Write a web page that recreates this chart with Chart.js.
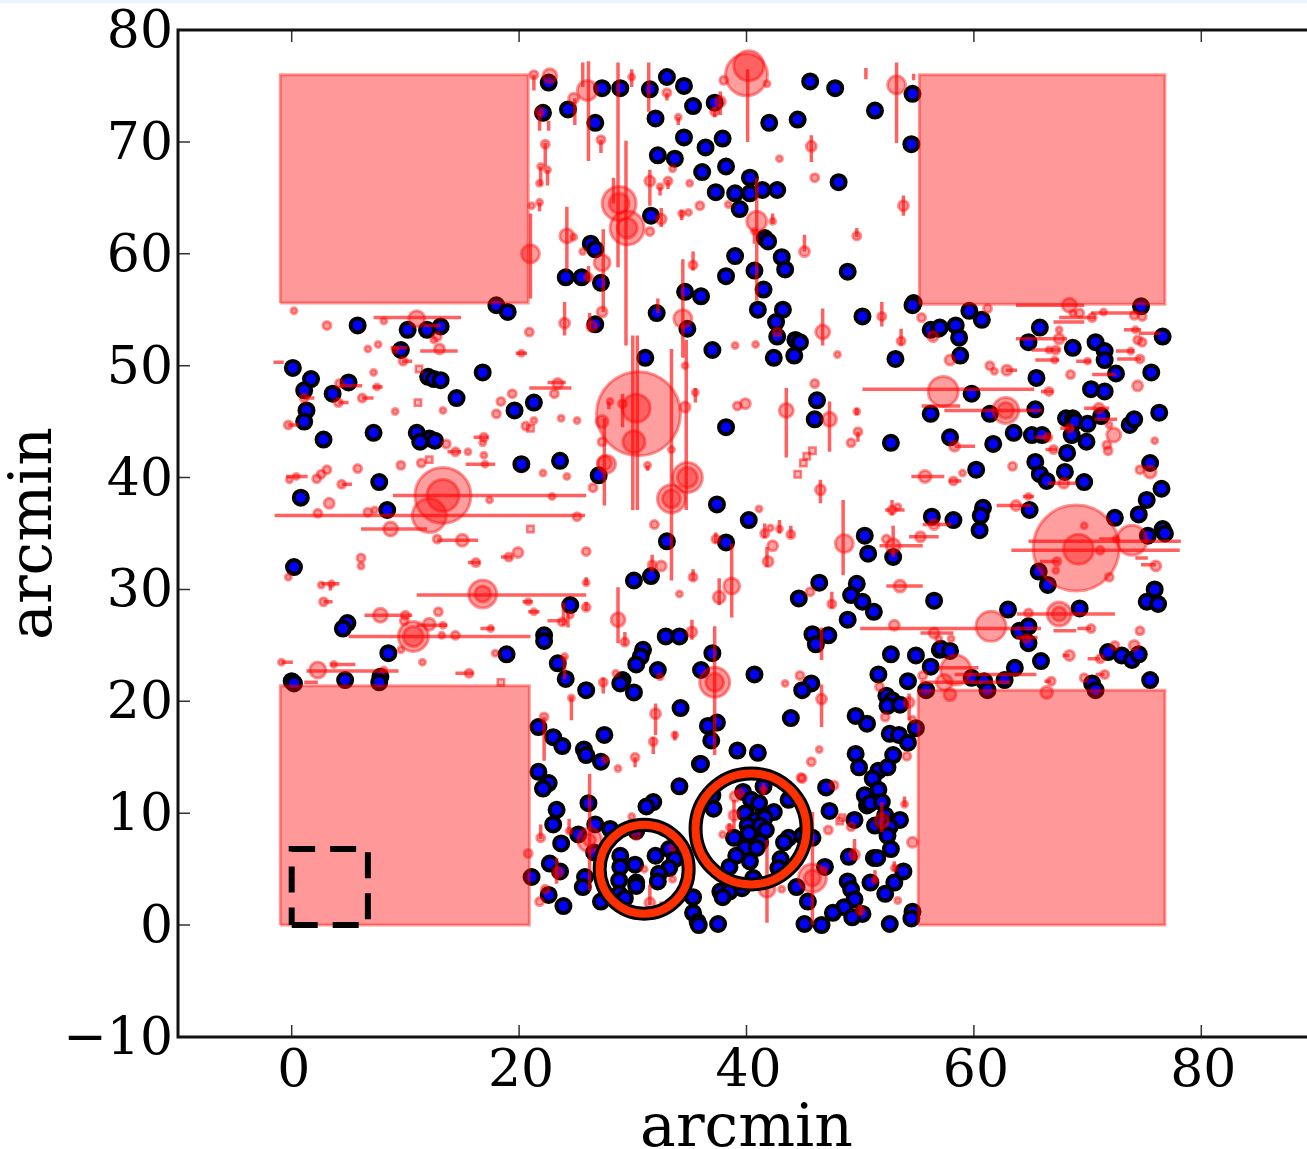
<!DOCTYPE html>
<html lang="en">
<head>
  <meta charset="UTF-8">
  <title>arcmin map</title>
  <script src="https://cdn.jsdelivr.net/npm/chart.js"></script>
  <style>
    html, body { margin: 0; padding: 0; background: #fff; overflow: hidden; width: 1307px; height: 1149px; }
    #strip { position: absolute; left: 0; top: 0; width: 1307px; height: 3px; background: #e9f2fd; z-index: 2; }
    #plot { position: absolute; left: 0; top: 0; display: block; }
  </style>
</head>
<body>
  <div id="strip"></div>
  <canvas id="plot" width="1315" height="1149"></canvas>

  <script>
    const xTicks = [0, 20, 40, 60, 80];
    const yTicks = [-10, 0, 10, 20, 30, 40, 50, 60, 70, 80];
    const axisTitle = 'arcmin';

    // masked corners: x0, x1, y0, y1
    const maskRects = [[-1, 20.8, 55.6, 76], [55.2, 76.8, 55.5, 76], [-1, 20.9, 0, 21.4], [55.1, 76.8, 0, 21]];
    const dashedRect = [0, 6.7, 0, 6.8];
    // cluster circles: x, y, r
    const clusterCircles = [[31, 5, 44.5], [40.4, 8.6, 55.5]];

    // blue sources: x, y
    const blueSources = [
      [22.6,75.3],[27.3,74.8],[22.1,72.6],[24.3,72.9],[26.7,71.7],[26.3,60.9],[26.7,60.4],[24.1,57.9],[25.5,57.9],[27.2,57.4],
      [18.0,55.4],[19.0,54.8],[5.8,53.6],[10.2,53.2],[11.9,53.2],[13.1,53.5],[26.7,53.7],[28.9,74.8],[31.5,74.7],[33.0,75.8],
      [34.5,75.0],[35.3,73.2],[37.2,73.5],[32.0,72.1],[42.0,71.7],[44.5,72.0],[45.6,75.4],[47.8,74.8],[54.6,74.3],[51.3,72.8],
      [54.5,69.8],[34.5,70.4],[36.4,69.5],[37.9,70.3],[32.2,68.8],[33.7,68.5],[36.1,67.3],[38.2,67.8],[40.3,66.8],[37.3,65.5],
      [39.0,65.4],[40.3,65.4],[41.4,65.7],[42.7,65.7],[39.4,64.0],[48.1,66.4],[31.6,63.4],[41.6,61.4],[41.9,61.1],[39.0,59.8],
      [43.1,59.7],[43.4,58.6],[40.7,58.5],[38.2,58.0],[48.9,58.4],[41.5,56.8],[34.6,56.6],[36.0,56.2],[41.0,55.0],[43.2,55.0],
      [32.1,54.7],[50.2,54.4],[54.7,55.6],[54.6,55.4],[42.6,53.9],[34.8,53.3],[42.7,52.6],[44.3,52.3],[44.7,52.1],[56.2,53.2],
      [56.9,53.3],[37.0,51.4],[31.1,50.7],[42.4,50.7],[44.2,50.9],[53.1,50.6],[38.2,44.5],[46.2,46.9],[46.0,45.2],[56.2,45.7],
      [52.7,43.1],[37.4,37.6],[40.2,36.2],[56.3,36.5],[33.0,34.3],[38.2,34.2],[31.6,31.2],[30.1,30.8],[50.4,34.8],[50.7,33.2],
      [52.9,32.9],[46.4,30.6],[44.6,29.2],[49.7,30.5],[49.2,29.5],[50.2,28.9],[51.2,28.0],[48.9,27.3],[56.5,29.0],[0.1,49.8],
      [1.7,48.8],[1.1,47.8],[5.0,48.5],[3.6,47.5],[1.3,46.0],[1.1,45.0],[2.8,43.4],[7.2,44.0],[9.6,51.4],[12.0,49.0],
      [12.5,48.8],[13.1,48.7],[14.5,47.1],[16.8,49.4],[19.6,46.0],[21.3,46.7],[11.0,44.0],[12.1,43.5],[11.3,43.2],[12.6,43.3],
      [20.2,41.2],[23.6,41.5],[27.0,40.2],[7.7,39.6],[0.8,38.2],[8.4,37.1],[0.2,32.0],[4.9,27.0],[4.5,26.5],[8.5,24.3],
      [18.9,24.2],[24.5,28.6],[22.2,25.9],[22.2,25.4],[23.4,23.4],[24.1,22.0],[25.9,21.0],[0.0,21.8],[0.2,21.6],[4.7,21.9],
      [7.8,22.2],[7.7,21.7],[21.7,17.7],[23.0,16.8],[23.8,16.0],[27.5,17.0],[25.7,15.7],[25.9,15.2],[27.2,14.6],[32.9,25.8],
      [34.1,25.8],[30.9,24.6],[30.7,24.0],[30.3,23.3],[32.2,22.8],[29.1,21.9],[28.9,21.6],[30.1,20.8],[37.0,24.3],[36.0,22.8],
      [40.7,22.4],[34.2,19.4],[45.7,21.6],[44.9,21.0],[45.8,26.0],[47.2,25.9],[46.1,25.1],[52.7,24.2],[54.9,24.1],[57.0,24.6],
      [51.6,22.4],[56.2,23.1],[54.2,21.8],[55.8,21.0],[52.3,20.5],[52.8,20.1],[52.4,19.6],[53.5,19.7],[43.9,18.5],[49.6,18.7],
      [50.6,18.0],[37.4,18.1],[36.6,17.8],[36.9,16.5],[52.6,17.1],[53.4,17.0],[54.2,16.3],[54.9,17.6],[39.2,15.6],[41.0,15.4],
      [35.9,14.4],[49.6,15.3],[52.9,15.2],[49.9,14.1],[51.6,13.8],[52.4,14.1],[51.1,13.1],[59.6,54.9],[60.7,54.1],[74.7,55.3],
      [57.0,53.4],[58.4,53.6],[58.7,52.5],[58.8,50.9],[65.8,53.4],[64.8,52.1],[68.7,51.6],[76.6,52.6],[70.7,52.1],[71.5,51.3],
      [71.5,50.5],[72.5,49.3],[75.6,49.4],[65.5,48.9],[70.3,47.9],[71.5,47.7],[59.8,47.5],[65.4,46.1],[61.4,45.7],[68.1,45.3],
      [68.7,45.3],[68.9,45.0],[70.0,44.8],[71.2,45.5],[73.7,44.7],[74.1,45.2],[76.3,45.8],[57.9,43.6],[61.7,43.0],[63.5,44.0],
      [65.1,43.8],[66.0,43.8],[68.6,43.8],[69.9,43.2],[68.2,42.2],[65.4,41.4],[75.5,41.3],[60.2,40.7],[68.0,40.5],[65.8,40.3],
      [66.4,39.7],[69.7,39.6],[76.5,39.0],[75.2,38.0],[74.5,36.7],[72.4,36.4],[58.2,36.2],[60.8,37.3],[60.6,36.6],[60.5,35.3],
      [64.9,37.1],[75.3,34.8],[76.6,35.4],[76.8,35.0],[65.7,31.6],[66.5,30.4],[75.9,30.0],[75.2,28.9],[76.2,28.7],[63.0,28.2],
      [69.3,28.3],[64.0,26.3],[64.8,26.7],[64.8,25.2],[65.9,23.6],[57.1,24.7],[57.9,24.5],[63.6,23.0],[59.8,22.1],[60.9,21.8],
      [62.7,21.9],[61.2,21.0],[71.8,24.4],[73.0,24.1],[73.9,23.7],[74.5,24.2],[75.5,21.9],[70.4,21.6],[70.7,21.0],[21.7,13.7],
      [22.6,12.7],[22.1,12.2],[23.3,10.3],[23.0,9.0],[23.7,7.3],[26.1,10.9],[26.7,9.0],[25.2,8.1],[28.0,8.6],[30.3,8.4],
      [34.1,12.4],[31.8,11.0],[31.2,10.6],[28.9,6.2],[28.9,5.2],[30.2,5.4],[28.8,4.0],[30.3,3.8],[30.3,3.5],[28.8,2.8],
      [29.3,2.4],[32.0,6.2],[33.2,6.8],[33.7,5.9],[33.2,5.1],[32.3,4.6],[32.2,3.9],[22.7,5.5],[23.6,4.8],[21.1,4.3],
      [25.8,4.3],[25.6,3.4],[22.6,2.7],[23.9,1.7],[27.2,2.1],[35.3,2.5],[35.3,1.1],[35.7,0.3],[35.8,0],[37.5,0.1],
      [26.6,6.5],[36.0,14.4],[47.0,12.3],[51.6,12.1],[50.4,11.6],[50.6,10.7],[50.9,10.9],[51.9,11.0],[47.3,10.2],[49.5,9.4],
      [52.2,9.8],[53.5,9.4],[51.3,8.9],[52.0,9.2],[52.6,8.8],[52.4,8.0],[52.7,6.8],[49.0,6.1],[51.2,6.0],[51.5,6.0],
      [46.9,5.2],[53.8,4.8],[53.0,3.8],[52.2,2.8],[50.9,3.8],[48.9,3.9],[49.2,3.2],[49.5,2.3],[48.6,1.6],[50.2,1.0],
      [49.3,0.7],[47.6,1.1],[45.4,2.1],[44.4,3.4],[45.1,0.1],[46.6,0],[52.6,0.1],[54.6,1.2],[54.5,0.6],[37.0,11.6],
      [37.1,10.4],[39.7,11.9],[41.5,12.4],[40.4,11.2],[41.1,10.9],[43.7,11.2],[39.9,10.0],[42.4,10.1],[40.8,9.4],[41.6,9.6],
      [40.1,8.9],[41.2,8.9],[41.7,8.5],[40.2,8.2],[38.9,7.8],[41.2,7.4],[39.9,6.9],[40.9,6.9],[39.1,6.2],[40.3,5.7],
      [38.5,5.2],[43.0,5.9],[42.8,5.1],[43.7,7.8],[43.3,7.4],[44.9,8.0],[45.8,7.8],[40.6,4.2],[37.7,3.0],[38.5,3.0],
      [37.9,2.5],[39.6,3.3]
    ];

    // red sources: x, y, r
    const redSources = [
      [30.5,45.7,42],[30.3,46.2,14],[30.1,43.2,11],[34.8,40.0,15],[34.8,40.0,10],[33.4,38.1,14],[33.4,38.1,9],[27.7,41.2,9],
      [13.3,38.4,28],[13.3,38.4,16],[12.1,36.6,17],[69.0,33.7,43],[69.2,33.6,15],[73.9,34.4,15],[57.3,47.7,15],[62.8,46.0,13],
      [62.8,46.0,8],[61.5,26.7,15],[67.5,27.8,12],[67.5,27.8,7],[58.4,22.8,15],[16.8,29.6,14],[16.8,29.6,8],[10.7,25.8,15],
      [10.7,25.8,10],[2.3,22.8,8],[7.8,27.7,7],[12.1,26.9,6],[40.0,76.0,21],[40.2,76.8,15],[53.2,75.1,9],[26.0,74.6,10],
      [28.8,64.5,17],[28.8,64.5,10],[29.5,62.3,17],[29.5,62.3,10],[21.0,60.0,9],[24.2,61.6,7],[27.3,59.2,8],[40.9,62.9,10],
      [46.7,53.0,7],[34.4,54.2,9],[48.6,34.1,9],[43.5,46.0,7],[47.3,45.2,7],[37.2,21.7,15],[37.2,21.7,9],[28.7,27.3,7],
      [38.7,30.3,8],[37.6,29.3,6],[45.8,4.2,14],[45.8,4.2,8],[41.8,3.2,8],[26.2,7.6,12],[26.2,7.6,6],
      [21.3,76.0,4],[22.7,75.9,7],[24.8,73.9,5],[21.8,72.7,4],[27.2,70.2,4],[22.3,69.8,4],[21.9,67.8,3],[22.5,67.5,3],
      [21.8,66.3,3],[21.8,64.6,3],[21.1,64.3,3],[24.8,61.5,3],[25.6,60.2,3],[26.1,57.9,4],[0.2,54.9,3],[3.1,53.6,4],
      [8.1,54.0,3],[11.0,54.2,8],[27.3,54.8,5],[24.0,53.8,5],[26.4,53.5,5],[20.9,53.0,4],[12.8,52.6,4],[12.5,52.3,3],
      [7.6,51.9,3],[6.7,51.5,3],[13.0,51.5,5],[9.8,50.4,4],[7.2,49.4,3],[9.1,51.4,3],[4.2,48.4,4],[7.5,48.1,3],
      [6.2,47.1,4],[4.1,46.7,4],[1.1,47.1,4],[-0.3,44.7,4],[9.1,45.9,3],[13.3,46.0,3],[20.2,51.1,3],[19.4,47.5,4],
      [18.4,46.8,4],[18.0,45.7,4],[20.6,44.6,4],[21.3,45.1,3],[23.4,48.4,5],[23.1,47.5,4],[23.7,45.3,3],[25.1,45.1,3],
      [27.3,45.0,6],[27.3,43.2,4],[27.5,41.3,7],[16.9,43.6,4],[16.8,43.1,3],[16.9,42.0,3],[17.0,41.2,3],[13.6,43.0,4],
      [14.4,42.3,4],[15.5,42.3,3],[11.4,41.3,4],[9.6,41.1,4],[5.8,40.8,4],[3.1,40.7,4],[2.6,40.3,4],[2.2,39.9,4],
      [4.4,39.4,4],[0.4,40.1,3],[-0.2,39.8,3],[22.1,40.4,3],[24.2,40.1,3],[26.5,39.1,4],[22.9,38.3,3],[17.4,38.0,3],
      [3.3,37.7,5],[2.3,36.8,4],[6.7,36.9,4],[7.3,37.1,3],[25.1,36.5,4],[8.7,35.4,7],[15.0,34.4,6],[12.8,34.5,4],
      [25.9,33.4,4],[19.9,33.3,5],[19.1,32.9,4],[16.2,32.4,4],[6.1,32.8,4],[6.1,32.1,3],[-0.3,31.1,3],[2.6,30.4,3],
      [3.5,30.5,3],[2.8,28.9,4],[20.8,28.9,3],[25.9,30.6,3],[25.9,28.4,4],[21.3,28.0,3],[12.9,28.0,4],[10.0,27.7,4],
      [9.9,27.2,4],[13.3,26.8,3],[17.5,26.5,3],[14.4,25.9,4],[13.2,25.9,3],[23.8,27.1,4],[24.5,27.7,3],[9.6,24.6,3],
      [11.5,23.5,3],[17.9,24.3,3],[-0.9,23.5,3],[3.7,23.3,3],[8.1,22.8,3],[15.6,22.5,4],[24.0,24.0,3],[27.4,21.7,4],
      [24.6,20.3,3],[22.2,18.6,4],[29.3,25.3,4],[35.2,26.2,5],[28.5,22.5,3],[32.4,22.2,3],[44.7,22.3,4],[43.4,21.6,3],
      [46.6,20.2,5],[32.0,18.9,5],[33.7,17.0,3],[31.8,16.4,4],[30.2,15.0,4],[28.7,14.0,3],[27.6,14.8,3],[46.4,15.7,3],
      [45.7,14.6,4],[44.8,13.2,4],[53.0,26.8,5],[56.5,26.1,5],[51.7,21.3,4],[54.3,19.9,5],[52.2,18.6,4],[54.6,18.4,3],
      [54.1,15.1,4],[64.8,27.9,4],[58.0,25.6,3],[56.9,25.6,3],[64.6,25.6,4],[70.3,26.5,4],[74.6,26.3,4],[72.4,25.0,4],
      [74.1,25.0,5],[68.4,24.1,5],[71.1,23.8,4],[71.5,22.4,4],[69.7,22.1,4],[66.8,21.8,4],[66.4,20.8,6],[57.9,20.6,6],
      [57.4,21.7,8],[55.5,22.3,4],[76.0,32.1,5],[67.2,31.7,3],[71.9,31.1,4],[61.2,55.1,4],[68.4,55.4,7],[69.3,54.7,4],
      [70.4,54.3,4],[68.7,54.7,3],[71.4,54.8,3],[74.1,54.5,4],[74.8,54.4,4],[67.5,53.2,3],[67.5,52.4,5],[66.6,51.4,3],
      [67.2,51.4,4],[67.1,50.5,3],[70.0,50.4,3],[73.8,51.3,3],[74.6,50.6,4],[74.4,52.3,4],[74.8,52.1,4],[74.2,53.2,3],
      [56.4,52.6,5],[57.9,50.5,5],[61.4,50.0,4],[61.8,49.5,3],[62.9,49.6,5],[68.5,49.2,4],[74.4,48.2,5],[66.6,47.7,4],
      [71.0,46.2,5],[72.3,43.8,7],[71.9,44.7,3],[68.4,44.4,4],[66.5,43.6,4],[58.3,42.8,5],[67.0,42.5,4],[71.7,42.9,4],
      [71.8,42.4,4],[75.9,43.3,3],[63.4,41.0,4],[55.7,40.1,6],[59.0,40.4,3],[58.2,39.7,4],[74.6,40.7,4],[75.5,40.5,6],
      [67.9,39.5,5],[64.8,38.3,3],[63.7,37.5,5],[56.5,35.8,5],[69.7,35.7,3],[71.1,33.5,4],[67.3,32.5,4],[72.5,34.5,3],
      [29.9,75.8,3],[33.0,74.4,4],[37.7,73.6,5],[37.2,72.7,4],[38.0,75.5,4],[41.8,75.2,3],[34.0,72.2,3],[31.5,66.5,5],
      [32.4,66.0,3],[33.1,66.5,4],[35.0,66.3,3],[33.5,67.6,3],[32.5,63.1,5],[34.3,63.6,3],[34.9,63.7,3],[35.9,64.3,4],
      [38.4,64.4,3],[31.5,62.0,4],[35.3,59.0,4],[42.3,62.9,3],[45.7,69.6,5],[42.9,68.5,3],[46.0,66.8,4],[53.8,64.3,5],
      [49.7,61.6,4],[45.1,60.2,5],[51.9,54.4,4],[53.6,52.2,4],[55.4,54.3,4],[39.0,51.8,3],[40.8,51.9,3],[42.7,53.0,4],
      [40.7,62.0,3],[28.0,46.8,3],[29.1,46.6,4],[34.6,50.0,3],[35.5,47.6,3],[34.6,46.3,5],[33.4,42.5,3],[31.3,41.1,3],
      [39.2,46.4,4],[39.9,46.6,5],[46.0,48.4,4],[48.0,51.0,3],[49.7,45.9,3],[49.8,44.1,4],[49.2,43.1,4],[46.5,38.9,5],
      [41.1,37.2,3],[31.9,35.8,4],[42.1,35.5,3],[41.6,35.0,4],[42.9,35.4,3],[43.9,34.9,4],[42.3,33.9,5],[41.9,32.5,5],
      [37.3,34.5,4],[32.5,32.1,5],[31.7,32.2,4],[35.3,31.1,4],[34.1,29.6,3],[45.6,29.8,4],[47.5,28.7,4],[52.8,37.1,4],
      [53.3,37.4,3],[55.3,34.7,5],[52.3,34.5,4],[52.9,33.9,7],[53.5,30.3,6],[21.9,7.8,4],[20.8,6.4,4],[23.4,4.7,5],
      [21.8,2.1,4],[22.3,3.2,4],[24.4,8.4,3],[29.9,9.7,3],[30.3,8.0,4],[31.0,5.0,3],[33.5,4.1,3],[33.5,6.9,3],
      [31.5,2.0,5],[39.0,11.5,5],[38.9,9.8,5],[39.4,11.8,4],[37.9,8.1,3],[38.5,8.7,3],[41.5,12.1,3],[47.7,12.5,4],
      [44.9,13.1,4],[53.9,10.8,3],[51.9,9.3,7],[47.2,8.5,4],[49.2,8.8,4],[49.5,6.3,5],[53.0,5.1,3],[51.3,4.0,3],
      [50.0,1.3,4],[54.6,7.4,5],[53.3,2.2,3],[43.1,3.2,3],[46.8,4.9,3]
    ];

    // box shaped red sources: x, y
    const redBoxes = [
      [48.4,9.6],[48.2,9.3],[45.3,41.9],[45.8,42.4],[45.0,41.3],[44.5,40.3],[11.1,46.7],[21.0,44.4],[12.1,41.6],[11.2,49.7],[21.0,35.4],[18.4,21.7]
    ];

    // horizontal error bars: y, x0, x1
    const hBars = [
      [38.4,8.9,25.9],[36.6,-1.5,25.8],[35.4,6.1,11.9],[34.4,12.8,16.4],[54.3,7.2,14.9],[51.3,11.3,14.6],[41.2,15.3,17.9],[48.0,20.9,24.6],
      [48.5,22.5,24.1],[50.3,-1.6,-0.7],[29.5,11.0,25.9],[25.8,5.0,21.0],[27.7,6.4,10.6],[22.7,1.3,9.4],[23.3,3.4,5.6],[22.5,14.4,16.0],
      [27.2,22.5,24.2],[26.5,16.6,17.8],[21.7,1.1,2.3],[47.9,50.2,65.3],[46.0,57.4,66.0],[46.4,55.4,58.8],[52.4,63.7,68.2],[55.4,63.7,69.7],
      [51.4,65.1,67.6],[50.5,65.4,67.5],[53.9,67.0,69.7],[54.3,67.5,70.7],[54.7,70.3,74.4],[53.2,73.2,74.7],[52.9,74.5,76.4],[51.3,72.5,74.1],
      [50.6,72.6,74.7],[50.4,69.0,70.3],[49.2,70.4,72.5],[46.2,69.7,71.9],[45.2,70.6,72.6],[44.4,67.6,68.8],[43.6,65.4,66.8],[42.8,58.3,60.1],
      [42.5,66.3,67.3],[40.1,54.5,57.4],[39.7,57.8,58.9],[39.5,66.5,69.0],[37.5,62.0,65.0],[38.3,64.3,65.3],[35.8,55.5,58.0],[34.7,54.3,56.9],
      [34.3,64.8,78.2],[33.5,63.3,78.1],[34.5,71.0,72.6],[32.5,65.8,67.5],[32.8,74.2,75.3],[32.2,74.7,76.0],[47.7,65.9,67.0],[49.6,62.8,63.8],
      [27.8,63.8,72.4],[26.5,50.0,65.9],[26.3,67.0,69.0],[26.5,69.1,70.3],[26.1,55.3,58.2],[24.1,67.8,68.4],[23.8,70.0,71.1],[22.4,70.7,71.5],
      [21.8,66.2,66.8],[23.0,56.9,60.4],[22.4,58.3,65.5],[21.7,55.3,63.2],[25.7,63.7,65.6],[33.9,51.7,55.5],[30.3,52.3,55.5],[37.1,52.2,53.9],
      [51.1,19.7,20.7],[40.1,-0.5,1.4],[43.6,16.0,17.3],[42.3,13.7,14.9],[32.4,15.5,16.6],[32.9,18.4,19.4],[39.4,4.4,5.3],[47.1,6.2,7.2],
      [46.7,4.1,5.0],[47.1,1.1,2.0],[48.2,4.2,6.2],[48.1,7.1,8.0],[44.7,-0.3,0.6],[50.4,9.7,10.6],[51.6,8.7,10.2],[53.6,11.6,13.1],
      [30.5,2.6,4.2],[28.9,2.8,3.6],[23.5,-0.9,0.1],[28.9,20.3,21.2],[28.0,20.8,21.8],[26.8,11.0,13.7]
    ];

    // vertical error bars: x, y0, y1
    const vBars = [
      [21.3,74.6,76],[21.8,71.0,72.7],[22.6,71.0,71.9],[24.9,71.5,73.9],[25.6,74.9,77.1],[26.1,68.3,77.2],[27.2,69.0,70.2],[22.3,67.8,69.9],
      [21.9,66.1,67.8],[22.5,66.1,67.5],[21.8,63.8,64.6],[21.0,56.0,63.6],[24.2,58.5,64.2],[27.4,56.3,62.2],[26.1,57.6,58.9],[27.4,54.8,56.3],
      [24.0,52.7,55.7],[26.2,53.2,54.7],[28.7,58.8,77.1],[31.4,72.7,77.1],[29.9,74.9,76.5],[33.0,73.7,74.4],[37.7,72.4,74.5],[37.2,72.2,73.1],
      [40.1,70.0,76.5],[50.5,75.6,76.6],[53.2,69.9,77.1],[54.7,75.5,76.1],[34.0,71.5,72.2],[45.7,68.2,70.6],[31.5,64.3,67.5],[29.4,51.8,70.1],
      [32.4,65.2,66.0],[33.1,65.8,66.6],[28.3,64.5,66.8],[32.5,62.4,64.1],[34.3,63.0,63.9],[53.8,63.4,65.2],[49.7,61.5,62.3],[45.1,60.2,61.7],
      [35.3,58.5,60.2],[42.3,62.7,63.6],[40.9,55.8,66.8],[40.7,60.9,62.1],[51.9,53.5,55.7],[46.7,51.8,55.1],[53.6,51.8,53.3],[34.4,50.7,59.5],
      [34.7,37.1,52.3],[32.2,54.7,56.0],[30.0,37.1,52.7],[30.4,37.1,52.7],[27.5,37.5,45.3],[29.1,44.5,47.5],[27.9,46.1,46.8],[33.4,30.8,51.5],
      [35.5,46.7,48.0],[43.5,41.8,48.0],[47.3,42.3,46.8],[49.8,43.2,44.1],[49.7,45.6,46.2],[31.3,40.6,41.1],[46.5,37.7,39.8],[48.5,31.3,38.0],
      [52.9,32.9,35.7],[52.8,36.6,38.0],[42.9,35.0,36.2],[43.9,34.6,35.7],[41.6,34.6,35.9],[41.8,32.0,33.8],[37.3,34.1,35.1],[38.7,27.5,34.1],
      [37.6,28.6,31.0],[31.7,31.6,33.1],[35.3,30.8,31.8],[47.5,28.3,29.8],[28.7,25.2,30.2],[29.3,25.0,26.2],[35.2,25.5,27.3],[27.4,20.7,22.1],
      [37.2,15.2,26.7],[32.0,17.0,19.8],[33.7,16.5,17.3],[31.8,15.3,16.8],[30.2,14.1,15.0],[46.6,23.7,26.6],[46.6,17.7,21.5],[54.3,18.3,20.7],
      [25.9,30.4,31.1],[23.9,26.8,28.8],[24.3,26.6,27.9],[25.9,28.1,28.9],[3.4,29.9,30.6],[24.0,22.0,24.0],[27.4,20.7,21.7],[24.6,18.3,20.4],
      [22.2,14.7,18.6],[26.2,3.1,13.5],[24.4,8.2,9.5],[21.9,7.7,9.0],[23.3,3.7,6.0],[31.5,1.8,3.6],[32.5,1.3,2.1],[41.8,0.2,7.6],
      [45.8,0,10.1],[41.5,11.6,12.7],[38.9,8.6,11.2],[38.5,8.2,9.1],[51.9,8.3,11.0],[49.5,5.8,7.7],[53.9,10.6,11.5],[53.0,4.8,5.7],
      [51.3,3.9,4.9],[50.0,0.9,1.8]
    ];

    function rectPath(r) {
      return [{x: r[0], y: r[2]}, {x: r[1], y: r[2]}, {x: r[1], y: r[3]}, {x: r[0], y: r[3]}, {x: r[0], y: r[2]}];
    }

    // all error bars go in one line with gaps between them
    const barPoints = [];
    hBars.forEach(b => barPoints.push({x: b[1], y: b[0]}, {x: b[2], y: b[0]}, {x: NaN, y: NaN}));
    vBars.forEach(b => barPoints.push({x: b[0], y: b[1]}, {x: b[0], y: b[2]}, {x: NaN, y: NaN}));

    const toXY = p => ({x: p[0], y: p[1]});
    const toBubble = p => ({x: p[0], y: p[1], r: p[2]});

    // spines and inward tick marks
    const framePlugin = {
      id: 'frame',
      afterDatasetsDraw(chart) {
        const c = chart.ctx, a = chart.chartArea, sx = chart.scales.x, sy = chart.scales.y;
        c.save();
        c.strokeStyle = '#333';
        c.lineWidth = 1.5;
        c.beginPath();
        xTicks.forEach(v => {
          const px = sx.getPixelForValue(v);
          c.moveTo(px, a.bottom); c.lineTo(px, a.bottom - 12);
          c.moveTo(px, a.top); c.lineTo(px, a.top + 12);
        });
        yTicks.forEach(v => {
          const py = sy.getPixelForValue(v);
          c.moveTo(a.left, py); c.lineTo(a.left + 12, py);
        });
        c.stroke();
        c.strokeStyle = '#111';
        c.lineWidth = 3;
        c.beginPath();
        c.moveTo(a.right + 2, a.top); c.lineTo(a.left, a.top); c.lineTo(a.left, a.bottom); c.lineTo(a.right + 2, a.bottom);
        c.stroke();
        c.restore();
      }
    };

    const ctx = document.getElementById('plot').getContext('2d');
    new Chart(ctx, {
      type: 'scatter',
      plugins: [framePlugin],
      data: {
        datasets: [
          {
            type: 'bubble', order: 1, clip: false,
            data: clusterCircles.map(toBubble),
            backgroundColor: 'transparent', borderColor: '#ff3000', borderWidth: 8
          },
          {
            type: 'bubble', order: 2, clip: false,
            data: clusterCircles.map(toBubble),
            backgroundColor: 'transparent', borderColor: '#000', borderWidth: 14
          },
          {
            order: 3, showLine: true, pointRadius: 0,
            data: rectPath(dashedRect),
            borderColor: '#000', borderWidth: 6, borderDash: [26, 15]
          },
          ...maskRects.map(r => ({
            order: 4, showLine: true, pointRadius: 0, fill: 'shape',
            data: rectPath(r),
            borderColor: 'rgba(255,0,0,0.4)', backgroundColor: 'rgba(255,0,0,0.4)', borderWidth: 3
          })),
          {
            order: 5, showLine: true, pointRadius: 0,
            data: barPoints,
            borderColor: 'rgba(255,0,0,0.62)', borderWidth: 3.5
          },
          {
            type: 'bubble', order: 6,
            data: redSources.map(toBubble),
            backgroundColor: 'rgba(255,0,0,0.38)', borderColor: 'rgba(255,0,0,0.42)', borderWidth: 3
          },
          {
            order: 7, pointStyle: 'rect', pointRadius: 4.5,
            data: redBoxes.map(toXY),
            backgroundColor: 'rgba(255,0,0,0.25)', borderColor: 'rgba(255,0,0,0.5)', borderWidth: 2.5
          },
          {
            order: 8, pointRadius: 7,
            data: blueSources.map(toXY),
            backgroundColor: '#0000ff', borderColor: '#000', borderWidth: 4
          }
        ]
      },
      options: {
        responsive: false,
        animation: false,
        events: [],
        layout: { autoPadding: false, padding: { top: 30, left: 0, right: 0, bottom: 0 } },
        plugins: { legend: { display: false }, tooltip: { enabled: false } },
        scales: {
          x: {
            type: 'linear', min: -10, max: 90,
            grid: { display: false, drawTicks: false },
            border: { display: false },
            afterBuildTicks: s => { s.ticks = xTicks.map(v => ({value: v})); },
            afterFit: s => { s.height = 112; s.paddingLeft = 0; s.paddingRight = 0; },
            ticks: {
              autoSkip: false, maxRotation: 0, padding: 4, labelOffset: 2, color: '#000',
              font: { family: 'DejaVu Serif', size: 52 }
            },
            title: {
              display: true, text: axisTitle, color: '#000', padding: 0,
              font: { family: 'DejaVu Serif', size: 60, lineHeight: 0.63 }
            }
          },
          y: {
            type: 'linear', min: -10, max: 80,
            grid: { display: false, drawTicks: false },
            border: { display: false },
            afterBuildTicks: s => { s.ticks = yTicks.map(v => ({value: v})); },
            afterFit: s => { s.width = 178; s.paddingTop = 0; s.paddingBottom = 0; },
            ticks: {
              autoSkip: false, padding: 5, labelOffset: 3.5, color: '#000',
              font: { family: 'DejaVu Serif', size: 52 },
              callback: v => (v < 0 ? '\u2212' + Math.abs(v) : String(v))
            },
            title: {
              display: true, text: axisTitle, color: '#000', padding: 0,
              font: { family: 'DejaVu Serif', size: 60, lineHeight: 1.17 }
            }
          }
        }
      }
    });
  </script>
</body>
</html>
